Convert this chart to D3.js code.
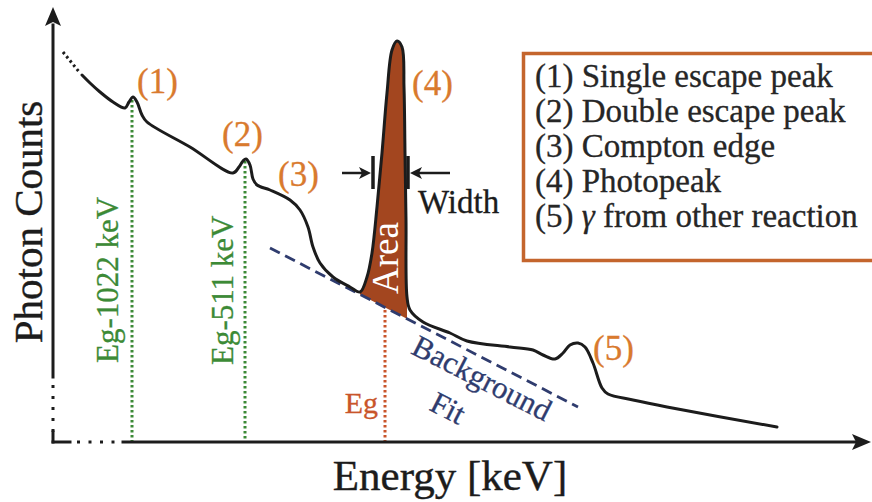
<!DOCTYPE html>
<html>
<head>
<meta charset="utf-8">
<script src="https://cdn.jsdelivr.net/npm/d3@7"></script>
<style>
  html, body { margin: 0; padding: 0; background: #ffffff; }
  svg { display: block; }
  text { font-family: "Liberation Serif", "DejaVu Serif", serif; }
</style>
</head>
<body>
<svg id="chart" width="872" height="502"></svg>
<script>
// ---- data (schematic spectrum, arbitrary energy / count units) ----
const energy = [29, 37, 47, 60, 72, 76, 80, 84, 89, 94, 137, 180, 186, 190, 193, 197, 200, 204, 217, 237, 247, 255, 260, 267, 280, 297, 307, 314, 319, 324, 329, 334, 339, 344, 349, 351, 352, 353, 354, 357, 370, 397, 414, 457, 480, 490, 502, 510, 517, 525, 532, 540, 549, 555, 580, 614, 724];
const counts = [367, 359, 350, 340, 334, 340, 345, 340, 327, 320, 295, 269, 275, 281, 283, 277, 263, 257, 252, 242, 232, 215, 195, 179, 165, 155, 150, 165, 189, 235, 289, 349, 392, 401, 395, 355, 289, 222, 145, 132, 120, 109, 101, 95, 92, 87, 83, 89, 97, 99, 95, 79, 54, 48, 42, 35, 15];
const leadEnergy = [10, 27];
const leadCounts = [390, 369];
const bgFitEnergy = [217, 525];
const bgFitCounts = [194, 35];
const areaRange = [307, 354];
const escapeEnergy = [79, 192];
const escapeTop = [342, 281];
const escapeLabels = ["Eg-1022 keV", "Eg-511 keV"];
const escapeLabelE = [65, 180];
const escapeLabelC = [79, 77];
const photoEnergy = [332];
const photoTop = [132];
const peakLabels = ["(1)", "(2)", "(3)", "(4)", "(5)"];
const peakLabelE = [84, 169, 225, 359, 540];
const peakLabelC = [349, 296, 256, 347, 82];
const widthEdges = [320, 355];
const widthLevel = 269;
const legendItems = ["(1) Single escape peak", "(2) Double escape peak", "(3) Compton edge", "(4) Photopeak", "(5) \u03B3 from other reaction"];
// axis pieces: [start, end] in data units
const yAxisSolid = [[65, 417], [0, 10]];
const yAxisDotted = [[10, 65]];
const xAxisSolid = [[0, 17], [70, 804]];
const xAxisDotted = [[17, 70]];

// ---- drawing ----
const svg = d3.select("#chart");
svg.append("rect").attr("width", 872).attr("height", 502).attr("fill", "#ffffff");

const x = d3.scaleLinear().domain([0, 815]).range([53, 868]);
const y = d3.scaleLinear().domain([0, 428]).range([442, 14]);

const ink = "#1c1c1c";
const orange = "#d97a2e";
const green = "#3c8a36";
const navy = "#2f3c6e";
const rust = "#a3461f";
const egRed = "#c9552b";

const pts = energy.map((e, i) => [e, counts[i]]);
const bgAt = e => bgFitCounts[0] + (bgFitCounts[1] - bgFitCounts[0]) * (e - bgFitEnergy[0]) / (bgFitEnergy[1] - bgFitEnergy[0]);

// area under photopeak above background
const areaPts = pts.filter(p => p[0] >= areaRange[0] && p[0] <= areaRange[1]);
svg.append("path")
  .attr("d", d3.area()
    .x(d => x(d[0]))
    .y0(d => y(bgAt(d[0])))
    .y1(d => y(d[1]))
    .curve(d3.curveCatmullRom.alpha(0.5))(areaPts))
  .attr("fill", rust);

// drop lines
svg.selectAll(".esc").data(escapeEnergy).enter().append("line")
  .attr("x1", d => x(d)).attr("x2", d => x(d))
  .attr("y1", (d, i) => y(escapeTop[i])).attr("y2", y(0))
  .attr("stroke", green).attr("stroke-width", 3).attr("stroke-dasharray", "2.6,2.4");
svg.selectAll(".pho").data(photoEnergy).enter().append("line")
  .attr("x1", d => x(d)).attr("x2", d => x(d))
  .attr("y1", (d, i) => y(photoTop[i])).attr("y2", y(0))
  .attr("stroke", egRed).attr("stroke-width", 3).attr("stroke-dasharray", "2.6,2.4");

// background fit
svg.append("line")
  .attr("x1", x(bgFitEnergy[0])).attr("y1", y(bgFitCounts[0]))
  .attr("x2", x(bgFitEnergy[1])).attr("y2", y(bgFitCounts[1]))
  .attr("stroke", navy).attr("stroke-width", 2.8).attr("stroke-dasharray", "11,6");

// spectrum curve
svg.append("path")
  .attr("d", d3.line().x(d => x(d[0])).y(d => y(d[1])).curve(d3.curveCatmullRom.alpha(0.5))(pts))
  .attr("fill", "none").attr("stroke", ink).attr("stroke-width", 3).attr("stroke-linejoin", "round").attr("stroke-linecap", "round");
svg.append("line")
  .attr("x1", x(leadEnergy[0])).attr("y1", y(leadCounts[0]))
  .attr("x2", x(leadEnergy[1])).attr("y2", y(leadCounts[1]))
  .attr("stroke", ink).attr("stroke-width", 3).attr("stroke-dasharray", "2.5,3");

// axes
const axisG = svg.append("g").attr("stroke", ink).attr("stroke-width", 3).attr("fill", "none");
yAxisSolid.forEach(s => axisG.append("line").attr("x1", x(0)).attr("x2", x(0)).attr("y1", y(s[0])).attr("y2", y(s[1])).attr("stroke-linecap", "square"));
yAxisDotted.forEach(s => axisG.append("line").attr("x1", x(0)).attr("x2", x(0)).attr("y1", y(s[0])).attr("y2", y(s[1])).attr("stroke-dasharray", "3,8"));
xAxisSolid.forEach(s => axisG.append("line").attr("y1", y(0)).attr("y2", y(0)).attr("x1", x(s[0])).attr("x2", x(s[1])).attr("stroke-linecap", "square"));
xAxisDotted.forEach(s => axisG.append("line").attr("y1", y(0)).attr("y2", y(0)).attr("x1", x(s[0])).attr("x2", x(s[1])).attr("stroke-dasharray", "3,8.5").attr("stroke-dashoffset", -7));
// arrowheads
const yTop = y(428) - 7;
svg.append("path").attr("d", `M${x(0)},${yTop} L${x(0) - 8},${yTop + 19} L${x(0)},${yTop + 15} L${x(0) + 8},${yTop + 19} Z`).attr("fill", ink);
const xEnd = 871;
svg.append("path").attr("d", `M${xEnd},${y(0)} L${xEnd - 19},${y(0) - 8} L${xEnd - 15},${y(0)} L${xEnd - 19},${y(0) + 8} Z`).attr("fill", ink);

// axis titles
svg.append("text").attr("transform", `translate(42,222) rotate(-90)`)
  .attr("text-anchor", "middle").attr("font-size", 41).attr("fill", ink)
  .attr("stroke", ink).attr("stroke-width", 0.4).text("Photon Counts");
svg.append("text").attr("x", 450).attr("y", 490)
  .attr("text-anchor", "middle").attr("font-size", 43).attr("fill", ink)
  .attr("stroke", ink).attr("stroke-width", 0.4).text("Energy [keV]");

// peak labels
svg.selectAll(".pl").data(peakLabels).enter().append("text")
  .attr("x", (d, i) => x(peakLabelE[i])).attr("y", (d, i) => y(peakLabelC[i]))
  .attr("font-size", 35).attr("fill", orange).attr("stroke", orange).attr("stroke-width", 0.3).text(d => d);

// escape labels
svg.selectAll(".el").data(escapeLabels).enter().append("text")
  .attr("transform", (d, i) => `translate(${x(escapeLabelE[i])},${y(escapeLabelC[i])}) rotate(-90)`)
  .attr("font-size", 31).attr("fill", green).attr("stroke", green).attr("stroke-width", 0.3).text(d => d);

// Eg label
svg.append("text").attr("x", x(325)).attr("y", y(29)).attr("text-anchor", "end")
  .attr("font-size", 30).attr("fill", egRed).attr("stroke", egRed).attr("stroke-width", 0.3).text("Eg");

// Area label
svg.append("text").attr("transform", `translate(${x(345)},${y(148)}) rotate(-90)`)
  .attr("font-size", 37).attr("fill", "#ffffff").text("Area");

// Width marker
const wy = y(widthLevel);
const wl = x(widthEdges[0]), wr = x(widthEdges[1]);
const mk = svg.append("g").attr("stroke", ink).attr("fill", ink);
mk.append("line").attr("x1", wl).attr("x2", wl).attr("y1", wy - 17).attr("y2", wy + 16).attr("stroke-width", 3.5);
mk.append("line").attr("x1", wr).attr("x2", wr).attr("y1", wy - 17).attr("y2", wy + 16).attr("stroke-width", 3.5);
mk.append("line").attr("x1", wl - 31).attr("x2", wl - 10).attr("y1", wy).attr("y2", wy).attr("stroke-width", 2.5);
mk.append("line").attr("x1", wr + 42).attr("x2", wr + 10).attr("y1", wy).attr("y2", wy).attr("stroke-width", 2.5);
mk.append("path").attr("stroke", "none").attr("d", `M${wl - 2},${wy} L${wl - 14},${wy - 6} L${wl - 11},${wy} L${wl - 14},${wy + 6} Z`);
mk.append("path").attr("stroke", "none").attr("d", `M${wr + 2},${wy} L${wr + 14},${wy - 6} L${wr + 11},${wy} L${wr + 14},${wy + 6} Z`);
svg.append("text").attr("x", wr + 10).attr("y", wy + 40).attr("font-size", 33).attr("fill", ink)
  .attr("stroke", ink).attr("stroke-width", 0.3).text("Width");

// Background fit label
svg.append("text").attr("transform", `translate(482,378) rotate(27)`)
  .attr("text-anchor", "middle").attr("dominant-baseline", "central")
  .attr("font-size", 31).attr("fill", navy).attr("stroke", navy).attr("stroke-width", 0.3).text("Background");
svg.append("text").attr("transform", `translate(448,408) rotate(27)`)
  .attr("text-anchor", "middle").attr("dominant-baseline", "central")
  .attr("font-size", 31).attr("fill", navy).attr("stroke", navy).attr("stroke-width", 0.3).text("Fit");

// legend
const lg = svg.append("g");
lg.append("rect").attr("x", 523.5).attr("y", 53.5).attr("width", 360).attr("height", 207)
  .attr("fill", "#ffffff").attr("stroke", "#c4652d").attr("stroke-width", 3.5);
lg.selectAll("text").data(legendItems).enter().append("text")
  .attr("x", 535).attr("y", (d, i) => 87 + i * 35)
  .attr("font-size", 33).attr("fill", "#262626").attr("stroke", "#262626").attr("stroke-width", 0.3)
  .each(function(d) {
    const t = d3.select(this);
    if (d.indexOf("\u03B3") >= 0) {
      const parts = d.split("\u03B3");
      t.append("tspan").text(parts[0]);
      t.append("tspan").attr("font-style", "italic").text("\u03B3");
      t.append("tspan").text(parts[1]);
    } else {
      t.text(d);
    }
  });
</script>
</body>
</html>
